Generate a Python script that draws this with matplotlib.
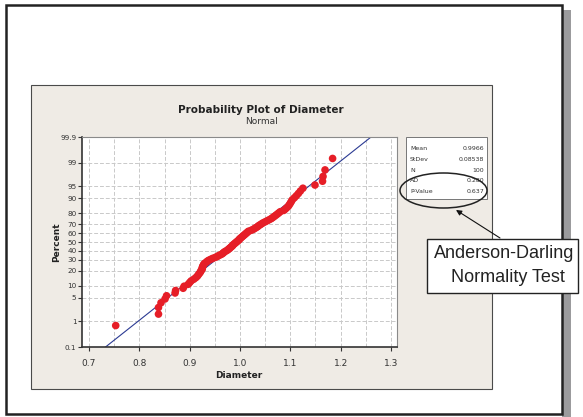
from statistics import NormalDist

import matplotlib
import numpy as np

matplotlib.use("Agg")
import matplotlib.pyplot as plt
from matplotlib.patches import Ellipse, FancyArrowPatch, Rectangle

# sorted diameters
diameter = [
    0.753, 0.838, 0.838, 0.843, 0.851, 0.854, 0.871, 0.872, 0.887, 0.889,
    0.897, 0.900, 0.903, 0.908, 0.912, 0.915, 0.917, 0.919, 0.921, 0.922,
    0.924, 0.925, 0.925, 0.926, 0.927, 0.928, 0.930, 0.933, 0.935, 0.938,
    0.942, 0.946, 0.951, 0.955, 0.958, 0.962, 0.965, 0.967, 0.969, 0.972,
    0.975, 0.977, 0.979, 0.981, 0.983, 0.985, 0.986, 0.988, 0.990, 0.992,
    0.994, 0.996, 0.998, 0.999, 1.001, 1.003, 1.005, 1.007, 1.009, 1.011,
    1.013, 1.015, 1.017, 1.022, 1.026, 1.029, 1.032, 1.035, 1.037, 1.040,
    1.043, 1.046, 1.050, 1.054, 1.058, 1.062, 1.065, 1.068, 1.071, 1.074,
    1.077, 1.080, 1.087, 1.090, 1.093, 1.096, 1.098, 1.100, 1.102, 1.104,
    1.108, 1.112, 1.116, 1.120, 1.125, 1.149, 1.164, 1.165, 1.169, 1.184,
]
mean_val = 0.9966
stdev_val = 0.08538
ad_val = 0.280
p_value = 0.637

pct_ticks = [0.1, 1, 5, 10, 20, 30, 40, 50, 60, 70, 80, 90, 95, 99, 99.9]
pct_labels = ["0.1", "1", "5", "10", "20", "30", "40", "50",
              "60", "70", "80", "90", "95", "99", "99.9"]
x_ticks = [0.7, 0.8, 0.9, 1.0, 1.1, 1.2, 1.3]
x_minor = [0.75, 0.85, 0.95, 1.05, 1.15, 1.25]

stat_names = ["Mean", "StDev", "N", "AD", "P-Value"]
stat_values = [f"{mean_val:.4f}", f"{stdev_val:.5f}", str(len(diameter)),
               f"{ad_val:.3f}", f"{p_value:.3f}"]

W, H = 583, 417
norm = NormalDist()


def fx(x):
    return x / W


def fy(y):
    return 1 - y / H


def to_z(pct):
    return np.array([norm.inv_cdf(p / 100.0) for p in np.atleast_1d(pct)])


n = len(diameter)
ranks = np.arange(1, n + 1)
plot_pct = (ranks - 0.3) / (n + 0.4) * 100
z_pts = to_z(plot_pct)

fig = plt.figure(figsize=(W / 100, H / 100), dpi=100)
fig.patch.set_facecolor("white")

tf = fig.transFigure
fig.patches.append(Rectangle((fx(562), fy(417)), 9 / W, 407 / H, transform=tf,
                             facecolor="#9b9b9d", edgecolor="none", zorder=-5))
fig.patches.append(Rectangle((fx(6), fy(414)), 556 / W, 409 / H, transform=tf,
                             facecolor="white", edgecolor="#222222", lw=1.8, zorder=-4))
fig.patches.append(Rectangle((fx(31), fy(389)), 461 / W, 304 / H, transform=tf,
                             facecolor="#efebe5", edgecolor="#4a4a4a", lw=0.8, zorder=-3))

ax = fig.add_axes([fx(82), fy(347), 315 / W, 210 / H])
ax.set_facecolor("white")

z_lo, z_hi = to_z([0.1, 99.9])
line_z = np.array([z_lo, z_hi])
ax.plot(mean_val + stdev_val * line_z, line_z, color="#2b3a93", lw=0.8, zorder=2)
ax.scatter(diameter, z_pts, s=30, color="#e61e27", edgecolors="none", zorder=3)

ax.set_xlim(0.686, 1.312)
ax.set_ylim(z_lo, z_hi)
ax.set_xticks(x_ticks, [f"{v:.1f}" for v in x_ticks])
ax.set_xticks(x_minor, minor=True)
ax.set_yticks(to_z(pct_ticks), pct_labels)
ax.grid(which="both", color="#c9c9c9", linestyle=(0, (4, 2)), lw=0.7, zorder=0)
ax.set_axisbelow(True)

ax.tick_params(axis="x", which="major", direction="out", length=3, width=0.8,
               colors="#333333", labelsize=6.5, pad=5.5)
ax.tick_params(axis="y", which="major", direction="out", length=3, width=0.8,
               colors="#333333", labelsize=5.2, pad=1)
ax.tick_params(which="minor", length=0)
for side in ["left", "bottom"]:
    ax.spines[side].set_color("#333333")
    ax.spines[side].set_linewidth(1.2)
for side in ["top", "right"]:
    ax.spines[side].set_color("#8a8a8a")
    ax.spines[side].set_linewidth(0.8)

fig.text(fx(261), fy(110), "Probability Plot of Diameter", ha="center", va="center",
         fontsize=7.5, fontweight="bold", color="#222222")
fig.text(fx(261), fy(122), "Normal", ha="center", va="center",
         fontsize=6.5, color="#333333")
fig.text(fx(57), fy(242), "Percent", ha="center", va="center", rotation=90,
         fontsize=6.5, fontweight="bold", color="#222222")
fig.text(fx(239), fy(375), "Diameter", ha="center", va="center",
         fontsize=6.5, fontweight="bold", color="#222222")

# stats box
fig.patches.append(Rectangle((fx(406), fy(199)), 81 / W, 62 / H, transform=tf,
                             facecolor="white", edgecolor="#777777", lw=0.7, zorder=4))
row_y = [148, 159, 170, 181, 191]
for name, val, y in zip(stat_names, stat_values, row_y):
    fig.text(fx(410), fy(y), name, ha="left", va="center", fontsize=4.5,
             color="#333333", zorder=5)
    fig.text(fx(484), fy(y), val, ha="right", va="center", fontsize=4.5,
             color="#333333", zorder=5)

fig.patches.append(Ellipse((fx(443.5), fy(190.5)), 87 / W, 35 / H, transform=tf,
                           fill=False, edgecolor="#222222", lw=1.1, zorder=6))

# annotation box with arrow
fig.patches.append(FancyArrowPatch((fx(500), fy(238)), (fx(456), fy(210)), transform=tf,
                                   arrowstyle="-|>", mutation_scale=8, lw=0.8,
                                   color="#111111", shrinkA=0, shrinkB=0, zorder=6))
fig.patches.append(Rectangle((fx(427), fy(293)), 151 / W, 54 / H, transform=tf,
                             facecolor="white", edgecolor="#222222", lw=1.0, zorder=7))
fig.text(fx(504), fy(254), "Anderson-Darling", ha="center", va="center",
         fontsize=13, family="Liberation Sans", color="#222222", zorder=8)
fig.text(fx(508), fy(277), "Normality Test", ha="center", va="center",
         fontsize=13, family="Liberation Sans", color="#222222", zorder=8)

fig.savefig("out.png", dpi=100)
